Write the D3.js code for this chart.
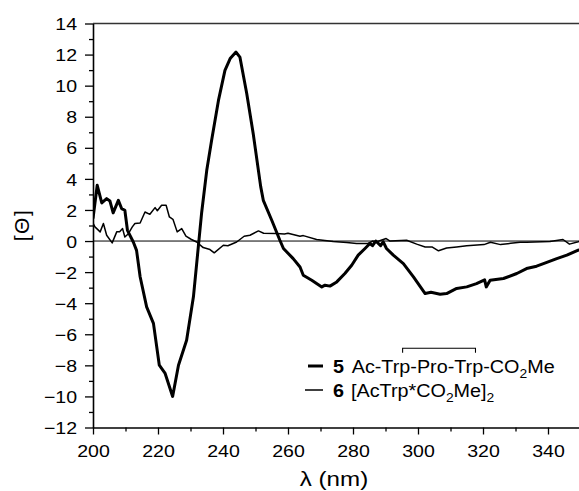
<!DOCTYPE html>
<html>
<head>
<meta charset="utf-8">
<script src="https://cdn.jsdelivr.net/npm/d3@7"></script>
<style>
  body { margin: 0; background: #fff; }
  svg { display: block; font-family: "Liberation Sans", Arial, Helvetica, sans-serif; }
</style>
</head>
<body>
<div id="chart"></div>
<script>
// CD spectra
const lambda5 = [200, 201.3, 202.7, 204.2, 205.2, 206.2, 207.8, 208.8, 209.8, 210.6, 212.4, 213.4, 214.5, 216.5, 218.6, 220.4, 222.2, 224.5, 226.3, 228.8, 230.9, 232.4, 233.4, 235.0, 236.5, 238.6, 240.6, 242.2, 244.0, 245.2, 247.3, 249.3, 251.6, 252.4, 255.0, 257.5, 258.6, 261.6, 263.7, 264.7, 267.3, 270.4, 271.4, 272.9, 275.0, 277.5, 279.6, 281.6, 283.7, 285.2, 286.0, 287.0, 288.5, 289.3, 290.3, 292.4, 295.5, 298.6, 302.2, 304.0, 306.8, 308.8, 311.9, 315.0, 318.0, 320.5, 321.0, 322.2, 326.3, 330.4, 333.4, 336.5, 338.6, 342.7, 345.8, 349.3, 350];
const theta5 = [1.45, 3.59, 2.45, 2.73, 2.58, 1.81, 2.62, 2.09, 1.98, 0.69, -0.06, -0.6, -2.3, -4.24, -5.3, -7.99, -8.52, -10.0, -7.99, -6.38, -3.59, -0.38, 1.77, 4.55, 6.48, 9.05, 10.98, 11.74, 12.16, 11.84, 9.49, 6.91, 3.5, 2.62, 1.34, 0.05, -0.48, -1.13, -1.67, -2.2, -2.52, -2.95, -2.84, -2.9, -2.63, -2.09, -1.56, -0.91, -0.48, -0.16, -0.3, 0.0, -0.3, -0.05, -0.48, -0.91, -1.45, -2.31, -3.38, -3.3, -3.42, -3.38, -3.05, -2.95, -2.74, -2.5, -2.95, -2.52, -2.41, -2.09, -1.77, -1.62, -1.45, -1.13, -0.91, -0.59, -0.55];

const lambda6 = [200, 200.6, 202.2, 203.2, 204.2, 205.9, 207.3, 208.2, 209.1, 209.8, 210.8, 212.1, 212.9, 214.5, 216.0, 217.5, 219.1, 219.8, 221.1, 222.5, 223.5, 224.6, 225.9, 227.3, 228.6, 230.3, 231.9, 233.9, 236.0, 237.3, 240.1, 241.5, 244.2, 246.5, 248.3, 250.9, 252.5, 256.3, 258.9, 260.0, 263.7, 264.7, 268.8, 273.9, 278.1, 281.1, 284.6, 286.1, 287.1, 290.2, 291.4, 296.5, 299.6, 302.2, 304.3, 306.3, 308.8, 311.9, 315.0, 320.3, 322.3, 325.4, 328.5, 331.4, 333.4, 340.6, 344.6, 346.6, 349.3, 350];
const theta6 = [1.15, 0.91, 0.59, 1.13, 0.37, -0.12, 0.59, 0.6, 0.8, 0.26, 0.45, 0.91, 1.13, 1.16, 1.87, 1.72, 2.15, 1.95, 2.3, 2.3, 1.55, 1.4, 0.59, 0.8, 0.31, 0.1, -0.06, -0.42, -0.55, -0.76, -0.27, -0.3, -0.06, 0.31, 0.37, 0.65, 0.5, 0.48, 0.45, 0.5, 0.31, 0.35, 0.1, -0.03, -0.1, -0.16, -0.16, 0.0, -0.06, 0.16, 0.0, 0.05, -0.2, -0.38, -0.38, -0.63, -0.45, -0.38, -0.3, -0.23, -0.08, -0.23, -0.15, -0.08, -0.08, -0.03, 0.1, -0.2, -0.05, 0.0];

const xMajor = [200, 220, 240, 260, 280, 300, 320, 340];
const xMinor = [210, 230, 250, 270, 290, 310, 330, 350];
const yMajor = [-12, -10, -8, -6, -4, -2, 0, 2, 4, 6, 8, 10, 12, 14];
const yMinor = [-11, -9, -7, -5, -3, -1, 1, 3, 5, 7, 9, 11, 13];

// Layout
const W = 579, H = 491;
const STRETCH = 1.15; // text in the figure is a little wide
const M = { left: 93, right: 580.5, top: 23.5, bottom: 427.5 };

const svg = d3.select('#chart').append('svg')
  .attr('width', W)
  .attr('height', H);

const x = d3.scaleLinear().domain([200, 350]).range([M.left, M.right]);
const y = d3.scaleLinear().domain([-12, 14]).range([M.bottom, M.top]);

svg.append('defs').append('clipPath').attr('id', 'plot')
  .append('rect')
  .attr('x', M.left).attr('y', M.top - 2)
  .attr('width', M.right - M.left).attr('height', M.bottom - M.top + 4);

// zero line and top frame
svg.append('line')
  .attr('x1', M.left).attr('x2', M.right)
  .attr('y1', y(0)).attr('y2', y(0))
  .attr('stroke', '#000').attr('stroke-width', 1);
svg.append('line')
  .attr('x1', M.left).attr('x2', M.right)
  .attr('y1', y(14)).attr('y2', y(14))
  .attr('stroke', '#333').attr('stroke-width', 1.6);

// Axes
const yAxis = svg.append('g')
  .attr('transform', `translate(${M.left},0)`)
  .call(d3.axisLeft(y).tickValues(yMajor).tickSize(8).tickSizeOuter(0)
    .tickFormat(d => d3.format('d')(d)));
yAxis.selectAll('text')
  .attr('x', -16 / STRETCH)
  .attr('dy', '0.36em')
  .attr('transform', `scale(${STRETCH},1)`);

svg.append('g')
  .attr('transform', `translate(${M.left},0)`)
  .call(d3.axisLeft(y).tickValues(yMinor).tickSize(4).tickFormat(''))
  .select('.domain').remove();

const xAxis = svg.append('g')
  .attr('transform', `translate(0,${M.bottom})`)
  .call(d3.axisBottom(x).tickValues(xMajor).tickSize(7).tickSizeOuter(0)
    .tickFormat(d => d));
xAxis.selectAll('text')
  .attr('y', 17.8)
  .attr('dy', '0.71em')
  .attr('transform', `scale(${STRETCH},1)`);

svg.append('g')
  .attr('transform', `translate(0,${M.bottom})`)
  .call(d3.axisBottom(x).tickValues(xMinor).tickSize(4).tickFormat(''))
  .select('.domain').remove();

svg.selectAll('.domain').attr('stroke-width', 1.6);
svg.selectAll('.tick line').attr('stroke-width', 1.3);
svg.selectAll('.tick text')
  .attr('font-size', 17)
  .attr('font-family', '"Liberation Sans", Arial, sans-serif')
  .attr('fill', '#000');

// Axis titles
svg.append('text')
  .attr('transform', `translate(334,486) scale(${STRETCH},1)`)
  .attr('text-anchor', 'middle')
  .attr('font-size', 21)
  .text('λ (nm)');

svg.append('text')
  .attr('transform', 'translate(29,225) rotate(-90)')
  .attr('text-anchor', 'middle')
  .attr('font-size', 21)
  .attr('letter-spacing', 1.5)
  .text('[Θ]');

// Curves
const line = d3.line()
  .x(d => x(d[0]))
  .y(d => y(d[1]));

const plot = svg.append('g').attr('clip-path', 'url(#plot)');

plot.append('path')
  .datum(d3.zip(lambda6, theta6))
  .attr('fill', 'none')
  .attr('stroke', '#000')
  .attr('stroke-width', 1.5)
  .attr('stroke-linejoin', 'round')
  .attr('d', line);

plot.append('path')
  .datum(d3.zip(lambda5, theta5))
  .attr('fill', 'none')
  .attr('stroke', '#000')
  .attr('stroke-width', 3)
  .attr('stroke-linejoin', 'round')
  .attr('d', line);

// Legend
const LEG_FONT = 18.5;
const LEG_STRETCH = 1.07;
const SUB_SHIFT = 5;

// parts: [text, isSubscript]
function subText(sel, parts) {
  let wasSub = false;
  parts.forEach(([t, sub]) => {
    const ts = sel.append('tspan').text(t);
    if (sub) {
      ts.attr('font-size', LEG_FONT * 0.7).attr('dy', SUB_SHIFT);
    } else if (wasSub) {
      ts.attr('dy', -SUB_SHIFT);
    }
    wasSub = sub;
  });
}

const leg1 = svg.append('g');
leg1.append('line')
  .attr('x1', 308).attr('x2', 323).attr('y1', 366).attr('y2', 366)
  .attr('stroke', '#000').attr('stroke-width', 3);
leg1.append('text')
  .attr('transform', `translate(333,372.7) scale(${LEG_STRETCH},1)`)
  .attr('font-size', LEG_FONT).attr('font-weight', 'bold')
  .text('5');
const t1g = leg1.append('g')
  .attr('transform', `translate(351.7,372.7) scale(${LEG_STRETCH},1)`);
const t1 = t1g.append('text').attr('font-size', LEG_FONT);
subText(t1, [['Ac-Trp-Pro-Trp-CO', false], ['2', true], ['Me', false]]);

// bracket joining the two Trp residues
const tn = t1.node();
const bx1 = tn.getSubStringLength(0, 5) + tn.getSubStringLength(5, 1) * 0.3;
const bx2 = tn.getSubStringLength(0, 13) + tn.getSubStringLength(13, 1) * 0.3;
t1g.append('path')
  .attr('d', `M${bx1},-20 V-24.4 H${bx2} V-20`)
  .attr('fill', 'none')
  .attr('stroke', '#000')
  .attr('stroke-width', 1);

const leg2 = svg.append('g');
leg2.append('line')
  .attr('x1', 305).attr('x2', 323).attr('y1', 390).attr('y2', 390)
  .attr('stroke', '#000').attr('stroke-width', 1.5);
leg2.append('text')
  .attr('transform', `translate(333,396.7) scale(${LEG_STRETCH},1)`)
  .attr('font-size', LEG_FONT).attr('font-weight', 'bold')
  .text('6');
const t2 = leg2.append('text')
  .attr('transform', `translate(351,396.7) scale(${LEG_STRETCH},1)`)
  .attr('font-size', LEG_FONT);
subText(t2, [['[AcTrp*CO', false], ['2', true], ['Me]', false], ['2', true]]);
</script>
</body>
</html>
